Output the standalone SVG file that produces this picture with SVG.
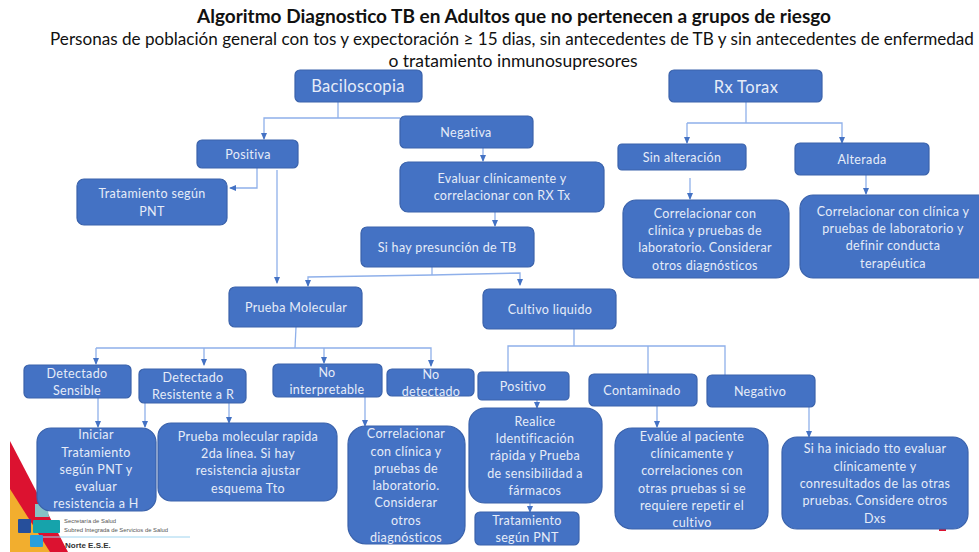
<svg xmlns="http://www.w3.org/2000/svg" width="979" height="552" viewBox="0 0 979 552">
<style>
.n{fill:#4472c4;stroke:#3a62ab;stroke-width:1.2}
.t{font-family:"Lato","Open Sans",sans-serif;font-size:12.5px;fill:#e6ecf8;text-anchor:middle;letter-spacing:.35px}
.big{font-size:16.500px}
.h{font-family:"Lato","Open Sans",sans-serif;fill:#111;text-anchor:middle}
.c{fill:none;stroke:#8fb0ea;stroke-width:1.3}
.a{fill:#4472c4}
.l{font-family:"Liberation Sans",sans-serif;font-size:5.900px;fill:#555}
</style>
<defs>
<marker id="ar" markerWidth="7" markerHeight="6" refX="6" refY="3" orient="auto" markerUnits="userSpaceOnUse"><path class="a" d="M0 0L7 3L0 6Z"/></marker>
</defs>
<rect width="979" height="552" fill="#fff"/>
<g id="titulo">
<text class="h" x="514" y="23" font-size="19" font-weight="700">Algoritmo Diagnostico TB en Adultos que no pertenecen a grupos de riesgo</text>
<text class="h" x="512" y="45" font-size="17.100">Personas de población general con tos y expectoración ≥ 15 dias, sin antecedentes de TB y sin antecedentes de enfermedad</text>
<text class="h" x="513" y="67" font-size="17.500">o tratamiento inmunosupresores</text>
</g>
<g id="logo">
<polygon points="10,441 68,552 10,552" fill="#dc1230"/>
<polygon points="10,489 50,552 10,552" fill="#f2ae2e"/>
<polygon points="35,504 47,504 49,517 35,517" fill="#86c3c6"/>
<rect x="18" y="519" width="13" height="14" rx="1" fill="#264f9b"/>
<rect x="33" y="520" width="27" height="13" rx="1" fill="#16a3ab"/>
<rect x="30" y="535" width="13" height="12" rx="1" fill="#2a9fdc"/>
<path d="M43 537H190" stroke="#9fd4ef" stroke-width="1" fill="none"/>
<text class="l" x="64" y="523">Secretaría de Salud</text>
<text class="l" x="64" y="531.500">Subred Integrada de Servicios de Salud</text>
<text x="65" y="548" font-family="Liberation Sans,sans-serif" font-size="8" font-weight="700" fill="#333">Norte E.S.E.</text>
</g>
<rect x="939" y="527" width="7" height="4" fill="#dc1230"/>
<g id="connectors">
<path class="c" d="M338 102V118"/><path class="c" d="M400 118H264V139" marker-end="url(#ar)"/>
<path class="c" d="M483 148V161" marker-end="url(#ar)"/>
<path class="c" d="M257 168V188H230" marker-end="url(#ar)"/>
<path class="c" d="M277 170V283" marker-end="url(#ar)"/>
<path class="c" d="M495 212V226" marker-end="url(#ar)"/>
<path class="c" d="M432 267V275"/>
<path class="c" d="M432 275L308 277V286" marker-end="url(#ar)"/>
<path class="c" d="M432 275L520 273V285" marker-end="url(#ar)"/>
<path class="c" d="M296 327L295 348"/>
<path class="c" d="M96 348H431V366" marker-end="url(#ar)"/>
<path class="c" d="M96 348V364" marker-end="url(#ar)"/>
<path class="c" d="M204 348V365" marker-end="url(#ar)"/>
<path class="c" d="M324 348V363" marker-end="url(#ar)"/>
<path class="c" d="M98 398V427" marker-end="url(#ar)"/>
<path class="c" d="M145 403V427" marker-end="url(#ar)"/>
<path class="c" d="M229 403V423" marker-end="url(#ar)"/>
<path class="c" d="M365 397V426" marker-end="url(#ar)"/>
<path class="c" d="M574 329V346"/>
<path class="c" d="M508 372V346H725V375"/>
<path class="c" d="M648 346V374"/>
<path class="c" d="M537 400V408" marker-end="url(#ar)"/>
<path class="c" d="M530 503V512" marker-end="url(#ar)"/>
<path class="c" d="M657 406V427" marker-end="url(#ar)"/>
<path class="c" d="M809 407V437" marker-end="url(#ar)"/>
<path class="c" d="M746 102V123"/>
<path class="c" d="M687 123H842V143" marker-end="url(#ar)"/>
<path class="c" d="M687 123V143" marker-end="url(#ar)"/>
<path class="c" d="M690 178V199" marker-end="url(#ar)"/>
<path class="c" d="M866 175V194" marker-end="url(#ar)"/>
</g>
<g id="baciloscopia"><rect class="n" x="295" y="70" width="127" height="32" rx="5"/><text class="t big" x="358" y="92">Baciloscopia</text></g>
<g id="rx-torax"><rect class="n" x="669" y="70" width="153" height="32" rx="5"/><text class="t big" x="746" y="93">Rx Torax</text></g>
<g id="negativa"><rect class="n" x="400" y="116" width="133" height="32" rx="5"/><text class="t" x="466" y="137">Negativa</text></g>
<g id="positiva"><rect class="n" x="197" y="140" width="101" height="28" rx="5"/><text class="t" x="248" y="159">Positiva</text></g>
<g id="tratamiento-pnt"><rect class="n" x="77" y="179" width="150" height="46" rx="7"/><text class="t" x="152" y="198">Tratamiento según</text><text class="t" x="152" y="216">PNT</text></g>
<g id="evaluar"><rect class="n" x="400" y="162" width="204" height="50" rx="8"/><text class="t" x="502" y="183">Evaluar clínicamente y</text><text class="t" x="502" y="200">correlacionar con RX Tx</text></g>
<g id="presuncion"><rect class="n" x="361" y="227" width="173" height="40" rx="6"/><text class="t" x="447" y="252">Si hay presunción de TB</text></g>
<g id="prueba-molecular"><rect class="n" x="229" y="287" width="133" height="40" rx="6"/><text class="t" x="296" y="312">Prueba Molecular</text></g>
<g id="cultivo-liquido"><rect class="n" x="483" y="289" width="133" height="40" rx="6"/><text class="t" x="550" y="314">Cultivo liquido</text></g>
<g id="sin-alteracion"><rect class="n" x="618" y="144" width="128" height="26" rx="4"/><text class="t" x="682" y="162">Sin alteración</text></g>
<g id="alterada"><rect class="n" x="795" y="143" width="134" height="32" rx="5"/><text class="t" x="862" y="164">Alterada</text></g>
<g id="correlacionar-rx1"><rect class="n" x="623" y="200" width="166" height="78" rx="13"/><text class="t" x="705" y="218">Correlacionar con</text><text class="t" x="705" y="235">clínica y pruebas de</text><text class="t" x="705" y="252">laboratorio. Considerar</text><text class="t" x="705" y="270">otros diagnósticos</text></g>
<g id="correlacionar-rx2"><rect class="n" x="800" y="195" width="190" height="83" rx="13"/><text class="t" x="893" y="216">Correlacionar con clínica y</text><text class="t" x="893" y="233">pruebas de laboratorio y</text><text class="t" x="893" y="250">definir conducta</text><text class="t" x="893" y="268">terapéutica</text></g>
<g id="detectado-sensible"><rect class="n" x="24" y="365" width="107" height="33" rx="5"/><text class="t" x="77" y="378">Detectado</text><text class="t" x="77" y="395">Sensible</text></g>
<g id="detectado-resistente"><rect class="n" x="139" y="369" width="107" height="34" rx="5"/><text class="t" x="193" y="382">Detectado</text><text class="t" x="193" y="399">Resistente a R</text></g>
<g id="no-interpretable"><rect class="n" x="273" y="364" width="109" height="33" rx="5"/><text class="t" x="327" y="377">No</text><text class="t" x="327" y="394">interpretable</text></g>
<g id="no-detectado"><rect class="n" x="387" y="369" width="87" height="27" rx="5"/><text class="t" x="431" y="379">No</text><text class="t" x="431" y="396">detectado</text></g>
<g id="iniciar"><rect class="n" x="37" y="428" width="119" height="83" rx="14"/><text class="t" x="96" y="439">Iniciar</text><text class="t" x="96" y="457">Tratamiento</text><text class="t" x="96" y="474">según PNT y</text><text class="t" x="96" y="491">evaluar</text><text class="t" x="96" y="508">resistencia a H</text></g>
<g id="prueba-rapida"><rect class="n" x="158" y="423" width="179" height="78" rx="13"/><text class="t" x="248" y="441">Prueba molecular rapida</text><text class="t" x="248" y="458">2da línea. Si hay</text><text class="t" x="248" y="475">resistencia ajustar</text><text class="t" x="248" y="493">esquema Tto</text></g>
<g id="correlacionar-ni"><rect class="n" x="348" y="426" width="117" height="118" rx="18"/><text class="t" x="406" y="438">Correlacionar</text><text class="t" x="406" y="456">con clínica y</text><text class="t" x="406" y="473">pruebas de</text><text class="t" x="406" y="490">laboratorio.</text><text class="t" x="406" y="507">Considerar</text><text class="t" x="406" y="525">otros</text><text class="t" x="406" y="542">diagnósticos</text></g>
<g id="positivo"><rect class="n" x="478" y="372" width="91" height="28" rx="4"/><text class="t" x="523" y="391">Positivo</text></g>
<g id="contaminado"><rect class="n" x="589" y="374" width="108" height="32" rx="5"/><text class="t" x="642" y="395">Contaminado</text></g>
<g id="negativo"><rect class="n" x="707" y="375" width="108" height="32" rx="5"/><text class="t" x="760" y="396">Negativo</text></g>
<g id="realice"><rect class="n" x="469" y="408" width="133" height="95" rx="16"/><text class="t" x="535" y="426">Realice</text><text class="t" x="535" y="443">Identificación</text><text class="t" x="535" y="460">rápida y Prueba</text><text class="t" x="535" y="478">de sensibilidad a</text><text class="t" x="535" y="495">fármacos</text></g>
<g id="tratamiento-pnt-2"><rect class="n" x="475" y="512" width="104" height="33" rx="5"/><text class="t" x="527" y="525">Tratamiento</text><text class="t" x="527" y="542">según PNT</text></g>
<g id="evalue"><rect class="n" x="615" y="428" width="153" height="101" rx="17"/><text class="t" x="692" y="441">Evalúe al paciente</text><text class="t" x="692" y="458">clínicamente y</text><text class="t" x="692" y="475">correlaciones con</text><text class="t" x="692" y="493">otras pruebas si se</text><text class="t" x="692" y="510">requiere repetir el</text><text class="t" x="692" y="527">cultivo</text></g>
<g id="si-ha-iniciado"><rect class="n" x="782" y="437" width="186" height="92" rx="15"/><text class="t" x="875" y="453">Si ha iniciado tto evaluar</text><text class="t" x="875" y="471">clínicamente y</text><text class="t" x="875" y="488">conresultados de las otras</text><text class="t" x="875" y="505">pruebas. Considere otros</text><text class="t" x="875" y="523">Dxs</text></g>
</svg>
